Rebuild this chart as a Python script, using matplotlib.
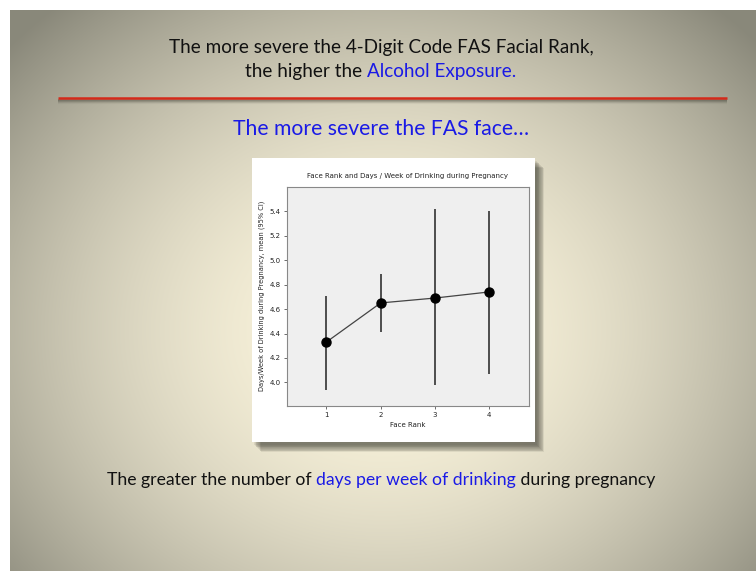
import matplotlib
matplotlib.use("Agg")
import matplotlib.pyplot as plt
import numpy as np
from matplotlib.patches import Rectangle

# data
face_rank = [1, 2, 3, 4]
mean_days = [4.33, 4.65, 4.69, 4.74]
ci_low = [3.94, 4.41, 3.98, 4.07]
ci_high = [4.71, 4.885, 5.415, 5.40]
y_ticks = [4.0, 4.2, 4.4, 4.6, 4.8, 5.0, 5.2, 5.4]

W, H = 756, 571
fig = plt.figure(figsize=(W / 100, H / 100), dpi=100)

# slide background (pixel coordinates)
bg = fig.add_axes([0, 0, 1, 1], zorder=-1)
bg.set_xlim(0, W)
bg.set_ylim(H, 0)
bg.axis("off")

yy, xx = np.mgrid[0:H, 0:W]
r = np.sqrt(((xx - 385) / 500.0) ** 2 + ((yy - 330) / 430.0) ** 2)
r = np.clip(r, 0, 1)
inner = np.array([0.99, 0.965, 0.87])
outer = np.array([0.54, 0.535, 0.48])
img = inner[None, None, :] * (1 - r[..., None] ** 1.8) + outer[None, None, :] * r[..., None] ** 1.8
img[:10, :, :] = 1.0
img[:, :10, :] = 1.0
bg.imshow(img, extent=(0, W, H, 0), aspect="auto", interpolation="bilinear")

# red divider with shadow
for k, a in enumerate([0.3, 0.22, 0.12, 0.06]):
    bg.plot([58, 727], [100 + k, 100 + k], color="#404035", alpha=a, lw=1.5, solid_capstyle="butt")
bg.plot([58, 727], [98, 98], color="#d42a1a", lw=1.8, solid_capstyle="butt")

# chart card with shadow
for k in range(10):
    bg.add_patch(Rectangle((254 + k * 0.8, 161 + k * 0.8), 283, 284, facecolor="#3a3a30", alpha=0.09, lw=0))
bg.add_patch(Rectangle((252, 158), 283, 284, facecolor="white", lw=0))


def line_of_text(ax, y, parts, size, cx=381):
    # draw coloured pieces side by side, centred on cx
    fig.canvas.draw()
    rend = fig.canvas.get_renderer()
    texts = []
    for s, c in parts:
        t = ax.text(0, y, s, color=c, fontsize=size, family="Lato", va="center", ha="left")
        texts.append(t)
    widths = []
    for t in texts:
        bb = t.get_window_extent(renderer=rend)
        widths.append(bb.width)
    total = sum(widths)
    x = cx - total / 2
    for t, w in zip(texts, widths):
        t.set_x(x)
        x += w


black = "#111111"
blue = "#1a1ae6"
line_of_text(bg, 47, [("The more severe the 4-Digit Code FAS Facial Rank,", black)], 13.6)
line_of_text(bg, 71, [("the higher the ", black), ("Alcohol Exposure.", blue)], 13.6)
line_of_text(bg, 129, [("The more severe the FAS face\u2026", blue)], 15.2)
line_of_text(bg, 480, [("The greater the number of ", black), ("days per week of drinking", blue),
                       (" during pregnancy", black)], 12.7)

# the chart itself
ax = fig.add_axes([286.7 / W, 1 - 405.7 / H, (529 - 286.7) / W, (405.7 - 186.7) / H])
ax.set_facecolor("#efefef")
for s in ax.spines.values():
    s.set_color("#888888")
    s.set_linewidth(0.8)

means = np.array(mean_days)
yerr = [means - np.array(ci_low), np.array(ci_high) - means]
ax.errorbar(face_rank, mean_days, yerr=yerr, fmt="none", ecolor="#222222", elinewidth=1.1, capsize=0)
ax.plot(face_rank, mean_days, color="#444444", lw=0.9)
ax.plot(face_rank, mean_days, "o", color="black", ms=6.5)

ax.set_xlim(0.27, 4.73)
ax.set_ylim(3.81, 5.6)
ax.set_xticks(face_rank)
ax.set_yticks(y_ticks)
ax.set_yticklabels([f"{v:.1f}" for v in y_ticks])
ax.tick_params(labelsize=5, length=2.5, width=0.6, color="#555555", labelcolor="#222222", pad=2)
ax.set_xlabel("Face Rank", fontsize=5, color="#222222", labelpad=3)
ax.set_ylabel("Days/Week of Drinking during Pregnancy, mean (95% CI)", fontsize=4.8, color="#222222", labelpad=3)
ax.set_title("Face Rank and Days / Week of Drinking during Pregnancy", fontsize=5, color="#222222", pad=6)

fig.savefig("out.png", dpi=100)
